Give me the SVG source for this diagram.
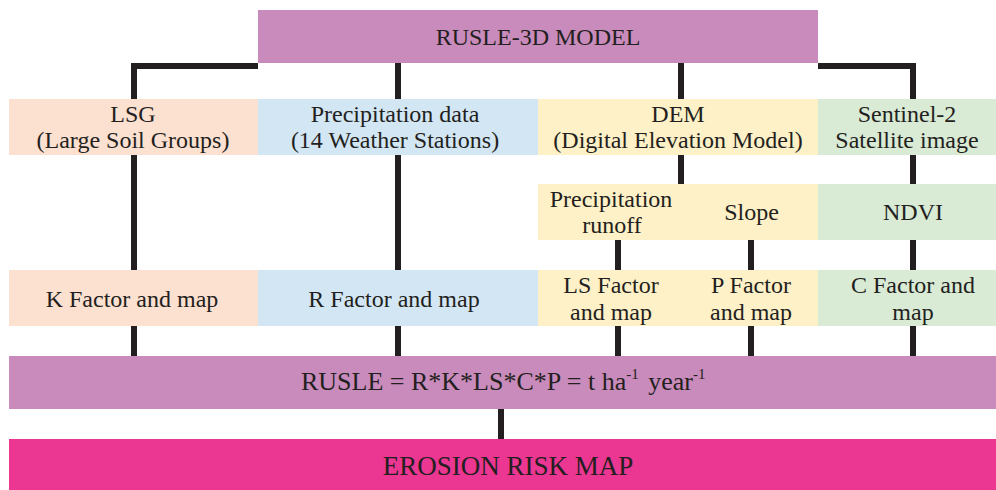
<svg xmlns="http://www.w3.org/2000/svg" width="996" height="490" viewBox="0 0 996 490">
<style>
text{font-family:"Liberation Serif","Times New Roman",serif;font-size:24px;fill:#231F20;text-anchor:middle}
.big{font-size:27px}
.c{fill:none;stroke:#231F20;stroke-width:6;stroke-linejoin:miter;stroke-linecap:butt}
.pur{fill:#C98BBB}.pea{fill:#FCE0D0}.blu{fill:#D3E6F4}.yel{fill:#FEF0C7}.grn{fill:#D9EAD5}.pnk{fill:#EB3692}
</style>
<rect width="996" height="490" fill="#fff"/>
<g id="connectors">
<path class="c" d="M258,66H134V99"/>
<path class="c" d="M398,63V99"/>
<path class="c" d="M681,63V99"/>
<path class="c" d="M818,66H913V99"/>
<path class="c" d="M134,155V270M398,155V270M681,155V184M913,155V184"/>
<path class="c" d="M618,240V270M751,240V270M913,240V270"/>
<path class="c" d="M134,326V356M398,326V356M618,326V356M751,326V356M913,326V356"/>
<path class="c" d="M501,409V439"/>
</g>
<g id="model"><rect class="pur" x="258" y="10" width="560" height="53"/><text x="538" y="45">RUSLE-3D MODEL</text></g>
<g id="lsg"><rect class="pea" x="9" y="99" width="249" height="56"/><text x="133" y="121.5">LSG</text><text x="133" y="148">(Large Soil Groups)</text></g>
<g id="precip"><rect class="blu" x="258" y="99" width="280" height="56"/><text x="395" y="121.5">Precipitation data</text><text x="395" y="148">(14 Weather Stations)</text></g>
<g id="dem"><rect class="yel" x="538" y="99" width="280" height="56"/><text x="678" y="121.5">DEM</text><text x="678" y="148">(Digital Elevation Model)</text></g>
<g id="sentinel"><rect class="grn" x="818" y="99" width="178" height="56"/><text x="907" y="121.5">Sentinel-2</text><text x="907" y="148">Satellite image</text></g>
<g id="runoff-slope"><rect class="yel" x="538" y="184" width="280" height="56"/><text x="611" y="206.5">Precipitation</text><text x="612" y="233">runoff</text><text x="751.5" y="220">Slope</text></g>
<g id="ndvi"><rect class="grn" x="818" y="184" width="178" height="56"/><text x="913" y="220">NDVI</text></g>
<g id="kfactor"><rect class="pea" x="9" y="270" width="249" height="56"/><text x="132" y="306.5">K Factor and map</text></g>
<g id="rfactor"><rect class="blu" x="258" y="270" width="280" height="56"/><text x="394" y="306.5">R Factor and map</text></g>
<g id="lsp"><rect class="yel" x="538" y="270" width="280" height="56"/><text x="611" y="292.5">LS Factor</text><text x="611" y="319.5">and map</text><text x="751" y="292.5">P Factor</text><text x="751" y="319.5">and map</text></g>
<g id="cfactor"><rect class="grn" x="818" y="270" width="178" height="56"/><text x="913" y="292.5">C Factor and</text><text x="913" y="319.5">map</text></g>
<g id="rusle"><rect class="pur" x="9" y="356" width="987" height="53"/><text class="big" x="301" y="390" style="text-anchor:start;font-size:26px">RUSLE = R*K*LS*C*P = t ha<tspan dy="-11" font-size="15">-1</tspan><tspan dy="11" dx="3"> year</tspan><tspan dy="-11" font-size="15">-1</tspan></text></g>
<g id="erosion"><rect class="pnk" x="9" y="439" width="987" height="51"/><text class="big" x="508" y="475">EROSION RISK MAP</text></g>
</svg>
